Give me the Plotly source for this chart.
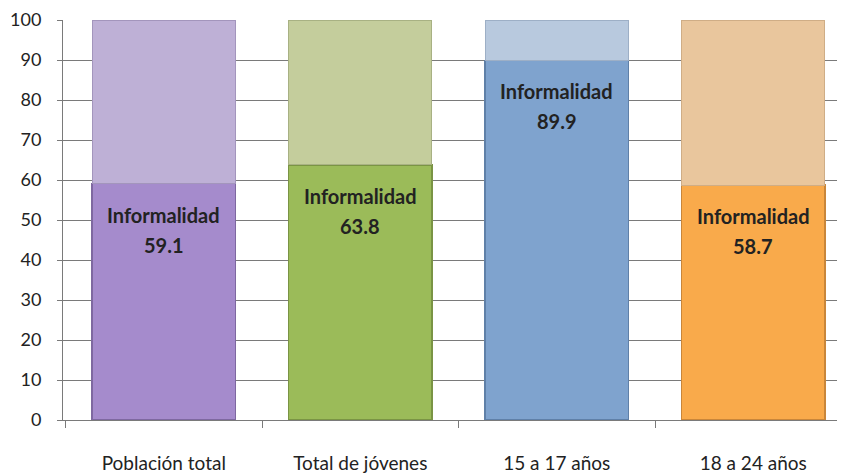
import plotly.graph_objects as go

categories = ["Población total", "Total de jóvenes", "15 a 17 años", "18 a 24 años"]
informalidad = [59.1, 63.8, 89.9, 58.7]
label_text = "Informalidad"
y_ticks = [0, 10, 20, 30, 40, 50, 60, 70, 80, 90, 100]

lower_colors = ["#A58BCC", "#9BBB59", "#7FA3CE", "#F9AA4B"]
upper_colors = ["#BEB0D6", "#C4CD9C", "#B8C9DE", "#E9C69D"]
lower_lines = ["#7E68A0", "#7A9444", "#5F80A8", "#C9863A"]
upper_lines = ["#A395BC", "#A8B183", "#9DAFC6", "#CFAD86"]

remaining = [100 - v for v in informalidad]

FONT = "Lato, Open Sans, sans-serif"

fig = go.Figure()
fig.add_trace(go.Bar(
    x=categories, y=informalidad,
    marker=dict(color=lower_colors, line=dict(color=lower_lines, width=1.5)),
    width=0.73, hoverinfo="skip",
))
fig.add_trace(go.Bar(
    x=categories, y=remaining,
    marker=dict(color=upper_colors, line=dict(color=upper_lines, width=1)),
    width=0.73, hoverinfo="skip",
))

for c, v in zip(categories, informalidad):
    fig.add_annotation(
        x=c, y=v, yanchor="middle", yshift=-31, showarrow=False,
        text=f"<b>{label_text}</b>",
        font=dict(family=FONT, size=20, color="#222222"),
    )
    fig.add_annotation(
        x=c, y=v, yanchor="middle", yshift=-61, showarrow=False,
        text=f"<b>{v:.1f}</b>",
        font=dict(family=FONT, size=20, color="#222222"),
    )

# page body has an 8px default margin, so the figure is sized to fit
fig.update_layout(
    barmode="stack",
    width=837, height=465,
    margin=dict(l=55, r=0, t=12, b=53),
    paper_bgcolor="white", plot_bgcolor="white",
    showlegend=False,
    font=dict(family=FONT, color="#222222"),
)
fig.update_yaxes(
    range=[0, 100], tickvals=y_ticks,
    showgrid=True, gridcolor="#7A7A7A", gridwidth=1,
    showline=True, linecolor="#7A7A7A", linewidth=1,
    ticks="outside", ticklen=5, tickcolor="#7A7A7A",
    tickfont=dict(family=FONT, size=18, color="#222222"),
    ticklabelstandoff=12,
    zeroline=False, automargin=False,
)
fig.update_xaxes(
    range=[-0.513, 3.467],
    showline=True, linecolor="#7A7A7A", linewidth=1,
    ticks="outside", ticklen=7, tickcolor="#7A7A7A", tickson="boundaries",
    tickfont=dict(family=FONT, size=19, color="#222222"),
    ticklabelstandoff=26,
    showgrid=False, automargin=False,
)

fig.write_html("out.html")
